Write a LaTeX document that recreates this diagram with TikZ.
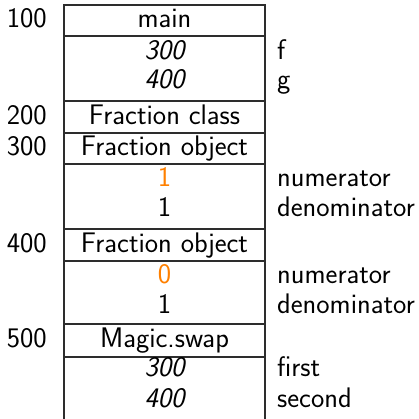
\documentclass[tikz,border=0pt]{standalone}
\usepackage{xcolor}
\definecolor{valorange}{RGB}{255,128,0}
\definecolor{linegray}{RGB}{45,45,45}
\begin{document}
\begin{tikzpicture}[x=1pt,y=-1pt,
  every node/.style={font=\sffamily\fontsize{28.3}{34}\selectfont, inner sep=0pt, anchor=base},
  cell/.style={anchor=center, text height=19.5pt, text depth=5.5pt},
  addr/.style={anchor=east, text height=19.5pt, text depth=5.5pt},
  var/.style={anchor=west, text height=19.5pt, text depth=5.5pt},
  frame/.style={draw=linegray, line width=1.2pt}]
\useasboundingbox (0,0) rectangle (419,418);
% frame
\draw[frame] (64,425) -- (64,5) -- (265,5) -- (265,425);
\foreach \yy in {36,101,133,164,229,261,324,357}
  \draw[frame] (64,\yy) -- (265,\yy);
% cells
\node[cell] (main) at (164.5,20.5) {main};
\node[cell] (f1) at (164.5,52) {\itshape 300};
\node[cell] (g1) at (164.5,81.5) {\itshape 400};
\node[cell] (fc) at (164.5,117) {Fraction class};
\node[cell] (fo1) at (164.5,148.5) {Fraction object};
\node[cell, text=valorange] (n1) at (164.5,179.5) {1};
\node[cell] (d1) at (164.5,209.5) {1};
\node[cell] (fo2) at (164.5,245) {Fraction object};
\node[cell, text=valorange] (n2) at (164.5,276) {0};
\node[cell] (d2) at (164.5,306) {1};
\node[cell] (ms) at (164.5,340.5) {Magic.swap};
\node[cell] (a1) at (164.5,369.5) {\itshape 300};
\node[cell] (a2) at (164.5,400.5) {\itshape 400};
% addresses
\node[addr] (ad100) at (47,20.5) {100};
\node[addr] (ad200) at (47,117) {200};
\node[addr] (ad300) at (47,148.5) {300};
\node[addr] (ad400) at (47,245) {400};
\node[addr] (ad500) at (47,340.5) {500};
% variable names
\node[var] (vf) at (277,52) {f};
\node[var] (vg) at (277,81.5) {g};
\node[var] (vn1) at (277,179.5) {numerator};
\node[var] (vd1) at (277,209.5) {denominator};
\node[var] (vn2) at (277,276) {numerator};
\node[var] (vd2) at (277,306) {denominator};
\node[var] (vfirst) at (277,369.5) {first};
\node[var] (vsecond) at (277,400.5) {second};
\end{tikzpicture}
\end{document}
